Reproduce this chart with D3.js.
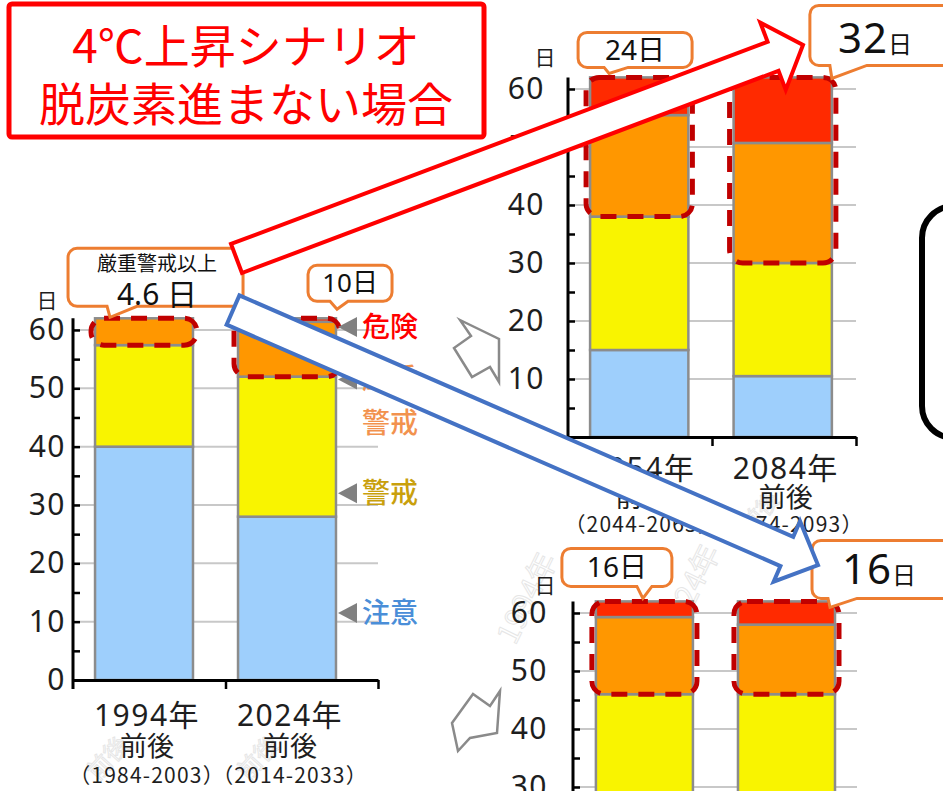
<!DOCTYPE html>
<html>
<head>
<meta charset="utf-8">
<script src="https://cdn.jsdelivr.net/npm/d3@7"></script>
<style>
  body { margin: 0; background: #fff; }
  svg { display: block; font-family: "Noto Sans CJK JP", "Noto Sans", sans-serif; }
</style>
</head>
<body>
<svg id="chart" width="943" height="791"></svg>
<script>
// 熱中症警戒の段階別日数（7〜8月の62日を段階ごとに積み上げ）
const levelNames = ["注意", "警戒", "厳重警戒", "危険"];
const levelFills = ["#9ECFFC", "#F9F400", "#FF9700", "#FF2A00"];

// 現在まで
const nowYears = ["1994年", "2024年"];
const nowRanges = ["（1984-2003）", "（2014-2033）"];
const nowChui = [40, 28];
const nowKeikai = [17.4, 24];
const nowGenju = [4.6, 9.4];
const nowKiken = [0, 0.6];

// 将来（4℃上昇シナリオ）
const futureYears = ["2054年", "2084年"];
const futureRanges = ["（2044-2063）", "（2074-2093）"];
const warm4Chui = [15, 10.5];
const warm4Keikai = [23, 19.5];
const warm4Genju = [17.5, 20.7];
const warm4Kiken = [6.5, 11.3];

// 将来（2℃上昇シナリオ）
const warm2Chui = [26, 25];
const warm2Keikai = [20, 21];
const warm2Genju = [13.3, 12];
const warm2Kiken = [2.7, 4];

const yTickValues = [0, 10, 20, 30, 40, 50, 60];
const yAllTicks = d3.range(0, 61, 5);
const fmtDays = d3.format(".1~f");
const viewHeight = 791;

const svg = d3.select("#chart");
const layerGhost = svg.append("g");
const layerCharts = svg.append("g");
const layerMarks = svg.append("g");
const layerNotes = svg.append("g");
const layerArrows = svg.append("g");

function drawPanel(cfg) {
  const g = layerCharts.append("g");
  const rows = cfg.cats.map((c, i) => {
    const r = { cat: c };
    levelNames.forEach((k, j) => { r[k] = cfg.values[j][i]; });
    return r;
  });
  const stacked = d3.stack().keys(levelNames)(rows);

  const x = d3.scaleBand().domain(cfg.cats)
    .range([cfg.axisX, cfg.axisEnd])
    .paddingInner(cfg.pad[0]).paddingOuter(cfg.pad[1]).align(cfg.pad[2]);
  const y = d3.scaleLinear().domain([0, 62]).range([cfg.y0, cfg.yTop]);

  // 目盛線
  g.append("g").selectAll("line").data(yTickValues.filter(v => v > 0)).join("line")
    .attr("x1", cfg.axisX).attr("x2", cfg.axisEnd)
    .attr("y1", d => y(d)).attr("y2", d => y(d))
    .attr("stroke", "#C8C8C8").attr("stroke-width", 2);

  // 積み上げ棒
  g.append("g").selectAll("g").data(stacked).join("g")
    .attr("fill", (d, i) => levelFills[i])
    .selectAll("rect").data(d => d.filter(s => s[1] - s[0] > 0)).join("rect")
    .attr("x", d => x(d.data.cat))
    .attr("width", x.bandwidth())
    .attr("y", d => y(d[1]))
    .attr("height", d => y(d[0]) - y(d[1]))
    .attr("stroke", "#8C8C8C").attr("stroke-width", 2.5);

  // 縦軸（内向きの目盛）
  const yAxis = g.append("g").attr("transform", `translate(${cfg.axisX},0)`)
    .call(d3.axisRight(y).tickValues(yAllTicks).tickSize(7).tickSizeOuter(0).tickFormat(""));
  yAxis.select(".domain").attr("stroke", "#000").attr("stroke-width", 3)
    .attr("d", `M0,${cfg.y0 + 9}V${cfg.yTop}`);
  yAxis.selectAll(".tick line").attr("stroke", "#000").attr("stroke-width", 2.5);

  const shownTicks = yTickValues.filter(v => y(v) < viewHeight + 8);
  const yLabels = g.append("g").attr("transform", `translate(${cfg.axisX - cfg.labelGap},0)`)
    .call(d3.axisLeft(y).tickValues(shownTicks).tickSize(0).tickPadding(0));
  yLabels.select(".domain").remove();
  yLabels.selectAll("text")
    .attr("font-family", "'Noto Sans', sans-serif")
    .attr("font-size", 30).attr("fill", "#1E1E1E").attr("letter-spacing", 1.5);

  // 横軸
  const xl = d3.scaleLinear().domain([0, 2]).range([cfg.axisX, cfg.axisEnd]);
  const xAxis = g.append("g").attr("transform", `translate(0,${cfg.y0})`)
    .call(d3.axisBottom(xl).tickValues([1, 2]).tickSize(9).tickSizeOuter(0).tickFormat(""));
  xAxis.select(".domain").attr("stroke", "#000").attr("stroke-width", 3);
  xAxis.selectAll(".tick line").attr("stroke", "#000").attr("stroke-width", 2.5);

  if (cfg.y0 < viewHeight) {
    const lab = g.append("g").selectAll("g").data(cfg.cats).join("g")
      .attr("transform", d => `translate(${x(d) + x.bandwidth() / 2 + 3},${cfg.y0})`)
      .attr("text-anchor", "middle").attr("fill", "#1E1E1E");
    lab.append("text").attr("y", cfg.labelOffsets[0]).attr("dy", "0.35em")
      .attr("font-size", 30).attr("letter-spacing", 1.5)
      .attr("font-family", "'Noto Sans', 'Noto Sans CJK JP', sans-serif").text(d => d);
    lab.append("text").attr("y", cfg.labelOffsets[1]).attr("dy", "0.35em")
      .attr("font-size", 27).text("前後");
    lab.append("text").attr("y", cfg.labelOffsets[2]).attr("dy", "0.35em")
      .attr("font-size", 21).attr("letter-spacing", 1.2)
      .text((d, i) => cfg.ranges[i]);
  }

  // 単位
  g.append("text").attr("x", cfg.axisX + cfg.unit[0]).attr("y", cfg.yTop + cfg.unit[1])
    .attr("text-anchor", "middle").attr("dy", "0.35em")
    .attr("font-size", 21).attr("fill", "#1E1E1E").text("日");

  // 厳重警戒以上を囲む破線
  rows.forEach(r => {
    const top = r["注意"] + r["警戒"] + r["厳重警戒"] + r["危険"];
    const base = r["注意"] + r["警戒"];
    layerMarks.append("rect")
      .attr("x", x(r.cat) - 4).attr("width", x.bandwidth() + 8)
      .attr("y", y(top)).attr("height", y(base) - y(top))
      .attr("rx", 13)
      .attr("fill", "none").attr("stroke", "#C00000").attr("stroke-width", 5)
      .attr("stroke-dasharray", "16 11");
  });

  return { x, y, rows, severe: rows.map(r => r["厳重警戒"] + r["危険"]) };
}

const pA = drawPanel({
  cats: nowYears, ranges: nowRanges,
  values: [nowChui, nowKeikai, nowGenju, nowKiken],
  axisX: 73, axisEnd: 378, y0: 680, yTop: 318.3,
  pad: [0.315, 0.224, 0.344], labelGap: 7,
  labelOffsets: [35, 67, 96], unit: [-26, -18]
});
const pB = drawPanel({
  cats: futureYears, ranges: futureRanges,
  values: [warm4Chui, warm4Keikai, warm4Genju, warm4Kiken],
  axisX: 568, axisEnd: 856, y0: 437, yTop: 77.4,
  pad: [0.315, 0.161, 0.478], labelGap: 23,
  labelOffsets: [31, 61, 88], unit: [-23, -20]
});
const pC = drawPanel({
  cats: futureYears, ranges: futureRanges,
  values: [warm2Chui, warm2Keikai, warm2Genju, warm2Kiken],
  axisX: 573, axisEnd: 857, y0: 961, yTop: 601.4,
  pad: [0.317, 0.158, 0.51], labelGap: 25,
  labelOffsets: [31, 61, 88], unit: [-28, -16]
});

// 段階の凡例（左グラフ右側）
const legendItems = [
  { name: "危険", lines: ["危険"], color: "#FF0000", at: 60.5 },
  { name: "厳重警戒", lines: ["厳重", "警戒"], color: "#F2924E", at: 51.5 },
  { name: "警戒", lines: ["警戒"], color: "#C9A00C", at: 32 },
  { name: "注意", lines: ["注意"], color: "#4A8ED8", at: 11.5 }
];
const legX = 338;
legendItems.forEach(it => {
  const cy = pA.y(it.at);
  layerNotes.append("path")
    .attr("d", `M${legX},${cy}L${legX + 19},${cy - 10}L${legX + 19},${cy + 10}Z`)
    .attr("fill", "#808080");
  it.lines.forEach((t, k) => {
    layerNotes.append("text").attr("x", legX + 24).attr("y", cy + k * 44)
      .attr("dy", "0.35em").attr("font-size", 28).attr("fill", it.color)
      .attr("font-weight", 500).text(t);
  });
});

// 薄い透かし文字
const ghosts = [
  { t: "1994年", x: 527, y: 598, r: -64, s: 30 },
  { t: "2024年", x: 690, y: 590, r: -64, s: 30 },
  { t: "前後", x: 108, y: 758, r: -48, s: 24 },
  { t: "前後", x: 258, y: 758, r: -48, s: 24 },
  { t: "前後", x: 760, y: 512, r: -48, s: 22 }
];
ghosts.forEach(d => {
  layerGhost.append("text")
    .attr("transform", `translate(${d.x},${d.y}) rotate(${d.r})`)
    .attr("text-anchor", "middle").attr("dy", "0.35em")
    .attr("font-size", d.s).attr("fill", "none")
    .attr("stroke", "#E6E6E6").attr("stroke-width", 1)
    .text(d.t);
});

// 灰色の小さな矢印
const grayArrows = [
  [[460, 320], [499, 339], [499, 382], [490, 367], [472, 377], [454, 348], [471, 336]],
  [[452, 723], [473, 694], [490, 706], [500, 691], [497, 733], [470, 738], [458, 751]]
];
grayArrows.forEach(pts => {
  layerNotes.append("path").attr("d", d3.line()(pts) + "Z")
    .attr("fill", "#fff").attr("stroke", "#8A8A8A").attr("stroke-width", 2.5)
    .attr("stroke-linejoin", "miter");
});

// 吹き出し
function calloutPath(x0, x1, y0, y1, r, t1, t2, tip) {
  return `M${x0 + r},${y0}H${x1 - r}A${r},${r} 0 0 1 ${x1},${y0 + r}` +
    `V${y1 - r}A${r},${r} 0 0 1 ${x1 - r},${y1}H${t2}L${tip[0]},${tip[1]}L${t1},${y1}` +
    `H${x0 + r}A${r},${r} 0 0 1 ${x0},${y1 - r}V${y0 + r}A${r},${r} 0 0 1 ${x0 + r},${y0}Z`;
}
function callout(panel, i, geo) {
  const bx = panel.x(panel.rows[i].cat);
  const bw = panel.x.bandwidth();
  const by = panel.y(62);
  const ref = geo.fromRight ? bx + bw : bx;
  const g = layerNotes.append("g");
  g.append("path")
    .attr("d", calloutPath(ref + geo.box[0], ref + geo.box[1], by + geo.box[2], by + geo.box[3], 9,
      ref + geo.tail[0], ref + geo.tail[1], [ref + geo.tip[0], by + geo.tip[1]]))
    .attr("fill", "#fff").attr("stroke", "#ED7D31").attr("stroke-width", 3);
  return { g, ref, by, value: fmtDays(panel.severe[i]) };
}

// 1994年: 厳重警戒以上
{
  const c = callout(pA, 0, { box: [-27, 148, -70, -12], tail: [12, 42], tip: [15, -1] });
  c.g.append("text").attr("x", c.ref + 62).attr("y", c.by - 54).attr("dy", "0.35em")
    .attr("text-anchor", "middle").attr("font-size", 20).attr("fill", "#111").text("厳重警戒以上");
  c.g.append("text").attr("x", c.ref + 62).attr("y", c.by - 24).attr("dy", "0.35em")
    .attr("text-anchor", "middle").attr("font-size", 30).attr("fill", "#111")
    .attr("font-family", "'Noto Sans', 'Noto Sans CJK JP', sans-serif")
    .text(c.value + " 日");
}
// 2024年
{
  const c = callout(pA, 1, { box: [70, 154, -53, -17], tail: [92, 110], tip: [99, -9] });
  c.g.append("text").attr("x", c.ref + 112).attr("y", c.by - 35).attr("dy", "0.35em")
    .attr("text-anchor", "middle").attr("font-size", 26).attr("fill", "#111")
    .attr("font-family", "'Noto Sans', 'Noto Sans CJK JP', sans-serif")
    .text(c.value + "日");
}
// 2054年（4℃）
{
  const c = callout(pB, 0, { box: [-12, 102, -45, -10], tail: [14, 38], tip: [19, -4] });
  c.g.append("text").attr("x", c.ref + 45).attr("y", c.by - 27).attr("dy", "0.35em")
    .attr("text-anchor", "middle").attr("font-size", 28).attr("fill", "#111")
    .attr("font-family", "'Noto Sans', 'Noto Sans CJK JP', sans-serif")
    .text(c.value + "日");
}
// 2084年（4℃）
{
  const c = callout(pB, 1, { fromRight: true, box: [-22, 140, -72, -12], tail: [-2, 35], tip: [0, 1] });
  const t = c.g.append("text").attr("x", c.ref + 6).attr("y", c.by - 24)
    .attr("fill", "#111").attr("font-family", "'Noto Sans', 'Noto Sans CJK JP', sans-serif");
  t.append("tspan").attr("font-size", 42).attr("letter-spacing", 1).text(c.value);
  t.append("tspan").attr("font-size", 24).text("日");
}
// 2054年（2℃）
{
  const c = callout(pC, 0, { box: [-34, 76, -53, -15], tail: [41, 56], tip: [47, -3] });
  c.g.append("text").attr("x", c.ref + 21).attr("y", c.by - 34).attr("dy", "0.35em")
    .attr("text-anchor", "middle").attr("font-size", 28).attr("fill", "#111")
    .attr("font-family", "'Noto Sans', 'Noto Sans CJK JP', sans-serif")
    .text(c.value + "日");
}
// 2084年（2℃）
{
  const c = callout(pC, 1, { fromRight: true, box: [-23, 140, -61, -3], tail: [-7, 22], tip: [-5, 6] });
  const t = c.g.append("text").attr("x", c.ref + 7).attr("y", c.by - 17)
    .attr("fill", "#111").attr("font-family", "'Noto Sans', 'Noto Sans CJK JP', sans-serif");
  t.append("tspan").attr("font-size", 42).attr("letter-spacing", 1).text(c.value);
  t.append("tspan").attr("font-size", 24).text("日");
}

// 表題
layerNotes.append("rect").attr("x", 9).attr("y", 4).attr("width", 475).attr("height", 133)
  .attr("rx", 3).attr("fill", "#fff").attr("stroke", "#FF0000").attr("stroke-width", 5);
layerNotes.append("text").attr("x", 246).attr("y", 46).attr("dy", "0.36em")
  .attr("text-anchor", "middle").attr("font-size", 46).attr("fill", "#FF0000")
  .attr("font-family", "'Noto Sans CJK JP', sans-serif").text("4℃上昇シナリオ");
layerNotes.append("text").attr("x", 246).attr("y", 104).attr("dy", "0.36em")
  .attr("text-anchor", "middle").attr("font-size", 46).attr("fill", "#FF0000")
  .attr("font-family", "'Noto Sans CJK JP', sans-serif").text("脱炭素進まない場合");

// 右端の枠
layerNotes.append("rect").attr("x", 922).attr("y", 206).attr("width", 120).attr("height", 232)
  .attr("rx", 32).attr("fill", "none").attr("stroke", "#000").attr("stroke-width", 6);

// 大きな矢印
function blockArrow(tail, tip, hw, hl, hhw) {
  const dx = tip[0] - tail[0], dy = tip[1] - tail[1], L = Math.hypot(dx, dy);
  const ux = dx / L, uy = dy / L, nx = -uy, ny = ux;
  const p = (a, b) => [tail[0] + ux * a + nx * b, tail[1] + uy * a + ny * b];
  return [p(0, -hw), p(L - hl, -hw), p(L - hl, -hhw), p(L, 0), p(L - hl, hhw), p(L - hl, hw), p(0, hw)];
}
layerArrows.append("path")
  .attr("d", d3.line()(blockArrow([236.5, 258.5], [803, 45], 15.5, 32, 36)) + "Z")
  .attr("fill", "#fff").attr("stroke", "#FF0000").attr("stroke-width", 4);
layerArrows.append("path")
  .attr("d", d3.line()(blockArrow([233, 310], [818, 565], 16, 34, 33)) + "Z")
  .attr("fill", "#fff").attr("stroke", "#4472C4").attr("stroke-width", 4);
</script>
</body>
</html>
